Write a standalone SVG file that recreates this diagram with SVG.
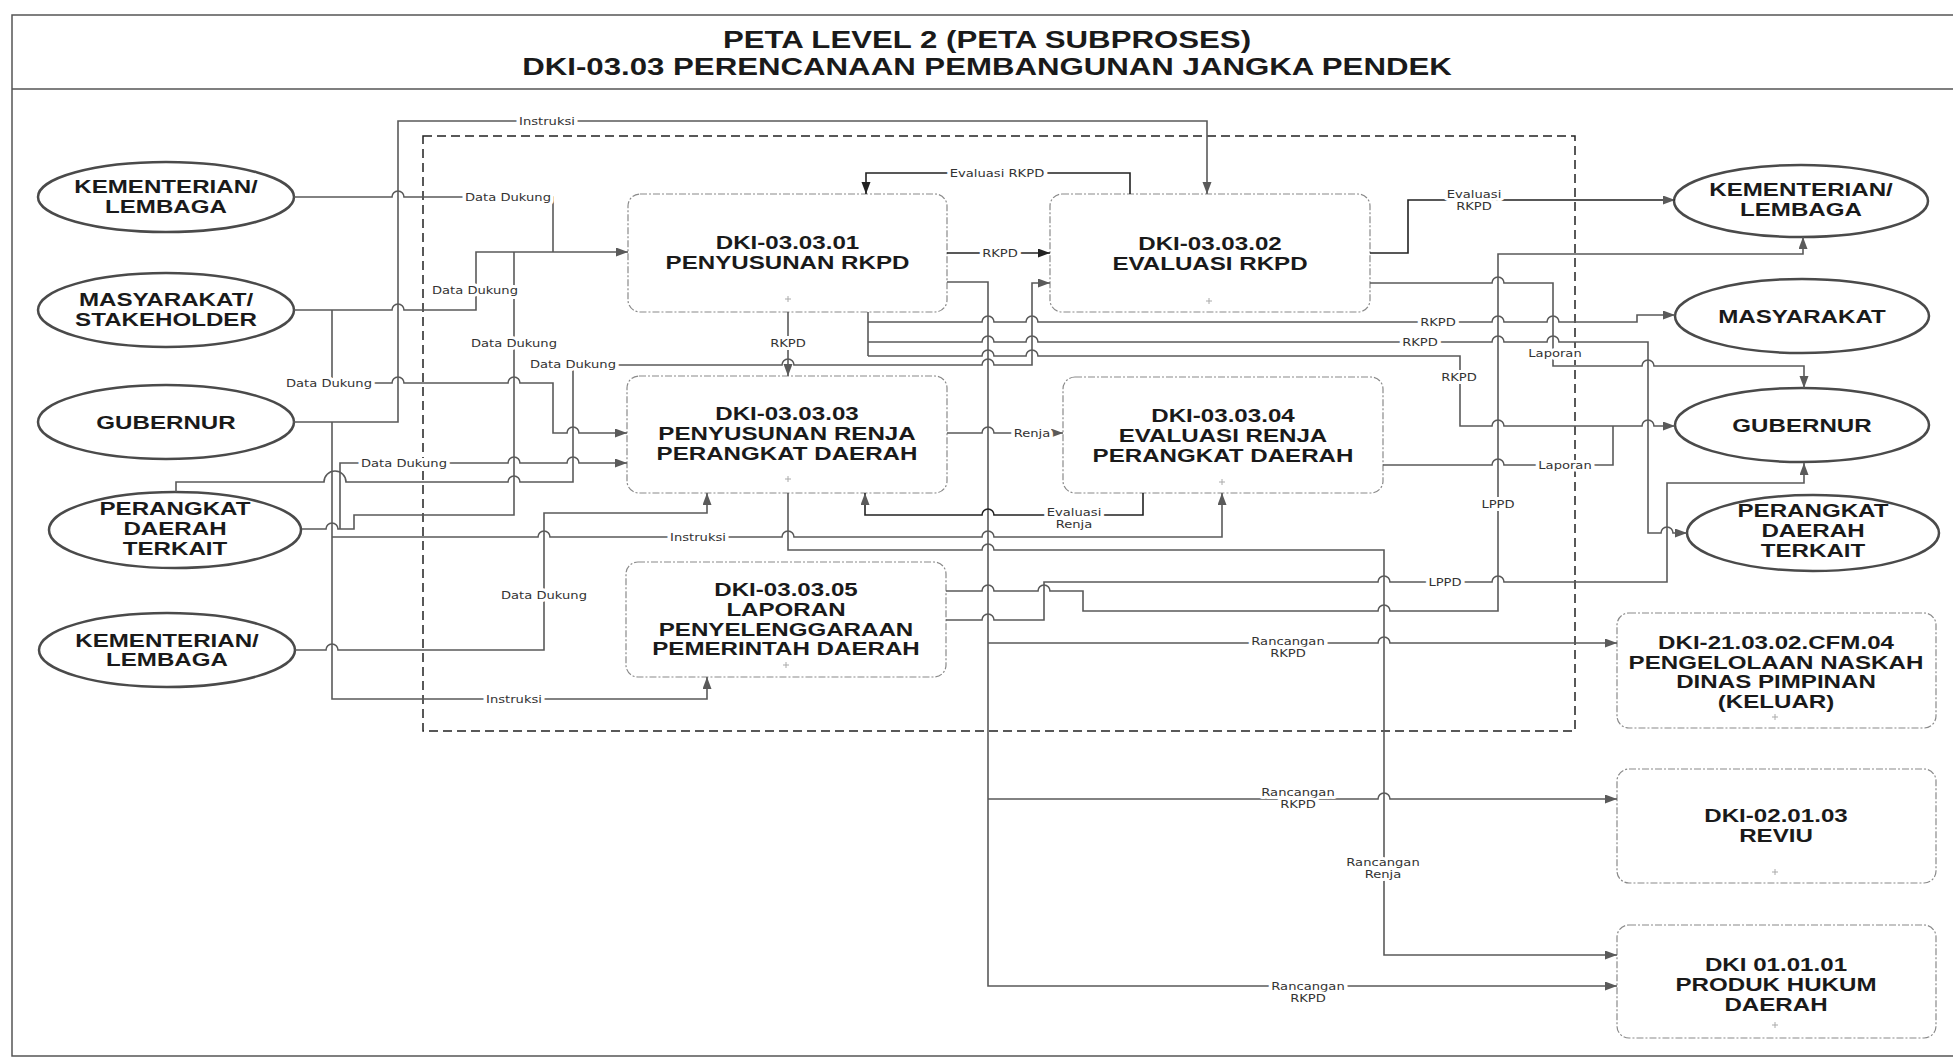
<svg xmlns="http://www.w3.org/2000/svg" width="1953" height="1061" viewBox="0 0 1953 1061">
<style>
.ln{fill:none;stroke:#5a5a5a;stroke-width:1.6}
.dk{stroke:#222}
.ell{fill:#fff;stroke:#4a4a4a;stroke-width:2.5}
.box{fill:#fff;stroke:#8a8a8a;stroke-width:1.2;stroke-dasharray:7 2 2 2}
.nt{font-family:"Liberation Sans",Arial,sans-serif;font-weight:bold;font-size:19px;fill:#1a1a1a;text-anchor:middle}
.tt{font-family:"Liberation Sans",Arial,sans-serif;font-weight:bold;font-size:24px;fill:#1a1a1a;text-anchor:middle}
.lb{font-family:"DejaVu Sans",sans-serif;font-size:10.5px;fill:#333;text-anchor:middle;stroke:#fff;stroke-width:6;paint-order:stroke;stroke-linejoin:round}
.pl{fill:none;stroke:#aaa;stroke-width:1}
.frame{fill:none;stroke:#555;stroke-width:1.5}
.cont{fill:none;stroke:#222;stroke-width:1.5;stroke-dasharray:9 5}
</style>
<defs>
<marker id="ar" markerUnits="userSpaceOnUse" markerWidth="13" markerHeight="10" refX="12" refY="4.5" orient="auto">
<path d="M0,0 L12,4.5 L0,9 z" fill="#5a5a5a"/>
</marker>
<marker id="ard" markerUnits="userSpaceOnUse" markerWidth="13" markerHeight="10" refX="12" refY="4.5" orient="auto">
<path d="M0,0 L12,4.5 L0,9 z" fill="#222"/>
</marker>
</defs>
<rect width="1953" height="1061" fill="#fff"/>
<g id="frame">
<rect class="frame" x="12" y="15" width="1960" height="1041"/>
<line class="frame" x1="12" y1="89" x2="1953" y2="89"/>
<text class="tt" transform="translate(987,48) scale(1.3,1)" x="0" y="0">PETA LEVEL 2 (PETA SUBPROSES)</text>
<text class="tt" transform="translate(987,75) scale(1.3,1)" x="0" y="0">DKI-03.03 PERENCANAAN PEMBANGUNAN JANGKA PENDEK</text>
</g>
<rect id="container" class="cont" x="423" y="136" width="1152" height="595"/>

<g id="n-kl1"><ellipse class="ell" cx="166" cy="197" rx="128" ry="35"/>
<text class="nt" transform="translate(166,0) scale(1.27,1)"><tspan x="0" y="193">KEMENTERIAN/</tspan><tspan x="0" y="213">LEMBAGA</tspan></text></g>
<g id="n-masy1"><ellipse class="ell" cx="166" cy="310" rx="128" ry="37"/>
<text class="nt" transform="translate(166,0) scale(1.27,1)"><tspan x="0" y="306">MASYARAKAT/</tspan><tspan x="0" y="326">STAKEHOLDER</tspan></text></g>
<g id="n-gub1"><ellipse class="ell" cx="166" cy="422" rx="128" ry="37"/>
<text class="nt" transform="translate(166,0) scale(1.27,1)"><tspan x="0" y="429">GUBERNUR</tspan></text></g>
<g id="n-pd1"><ellipse class="ell" cx="175" cy="530" rx="126" ry="38"/>
<text class="nt" transform="translate(175,0) scale(1.27,1)"><tspan x="0" y="515">PERANGKAT</tspan><tspan x="0" y="535">DAERAH</tspan><tspan x="0" y="555">TERKAIT</tspan></text></g>
<g id="n-kl2"><ellipse class="ell" cx="167" cy="650" rx="128" ry="37"/>
<text class="nt" transform="translate(167,0) scale(1.27,1)"><tspan x="0" y="647">KEMENTERIAN/</tspan><tspan x="0" y="666">LEMBAGA</tspan></text></g>

<g id="n-kl3"><ellipse class="ell" cx="1801" cy="201" rx="127" ry="36"/>
<text class="nt" transform="translate(1801,0) scale(1.27,1)"><tspan x="0" y="196">KEMENTERIAN/</tspan><tspan x="0" y="216">LEMBAGA</tspan></text></g>
<g id="n-masy2"><ellipse class="ell" cx="1802" cy="316" rx="127" ry="37"/>
<text class="nt" transform="translate(1802,0) scale(1.27,1)"><tspan x="0" y="323">MASYARAKAT</tspan></text></g>
<g id="n-gub2"><ellipse class="ell" cx="1802" cy="425" rx="127" ry="37"/>
<text class="nt" transform="translate(1802,0) scale(1.27,1)"><tspan x="0" y="432">GUBERNUR</tspan></text></g>
<g id="n-pd2"><ellipse class="ell" cx="1813" cy="533" rx="126" ry="38"/>
<text class="nt" transform="translate(1813,0) scale(1.27,1)"><tspan x="0" y="517">PERANGKAT</tspan><tspan x="0" y="537">DAERAH</tspan><tspan x="0" y="557">TERKAIT</tspan></text></g>

<g id="n-b1"><rect class="box" x="628" y="194" width="319" height="118" rx="12"/>
<text class="nt" transform="translate(787.5,0) scale(1.27,1)"><tspan x="0" y="249">DKI-03.03.01</tspan><tspan x="0" y="269">PENYUSUNAN RKPD</tspan></text>
<path class="pl" d="M785,299 h6 M788,296 v6"/></g>
<g id="n-b2"><rect class="box" x="1050" y="194" width="320" height="118" rx="12"/>
<text class="nt" transform="translate(1210,0) scale(1.27,1)"><tspan x="0" y="250">DKI-03.03.02</tspan><tspan x="0" y="270">EVALUASI RKPD</tspan></text>
<path class="pl" d="M1206,301 h6 M1209,298 v6"/></g>
<g id="n-b3"><rect class="box" x="627" y="376" width="320" height="117" rx="12"/>
<text class="nt" transform="translate(787,0) scale(1.27,1)"><tspan x="0" y="420">DKI-03.03.03</tspan><tspan x="0" y="440">PENYUSUNAN RENJA</tspan><tspan x="0" y="460">PERANGKAT DAERAH</tspan></text>
<path class="pl" d="M785,479 h6 M788,476 v6"/></g>
<g id="n-b4"><rect class="box" x="1063" y="377" width="320" height="116" rx="12"/>
<text class="nt" transform="translate(1223,0) scale(1.27,1)"><tspan x="0" y="422">DKI-03.03.04</tspan><tspan x="0" y="442">EVALUASI RENJA</tspan><tspan x="0" y="462">PERANGKAT DAERAH</tspan></text>
<path class="pl" d="M1219,482 h6 M1222,479 v6"/></g>
<g id="n-b5"><rect class="box" x="626" y="562" width="320" height="115" rx="12"/>
<text class="nt" transform="translate(786,0) scale(1.27,1)"><tspan x="0" y="596">DKI-03.03.05</tspan><tspan x="0" y="616">LAPORAN</tspan><tspan x="0" y="636">PENYELENGGARAAN</tspan><tspan x="0" y="655">PEMERINTAH DAERAH</tspan></text>
<path class="pl" d="M783,665 h6 M786,662 v6"/></g>

<g id="n-b6"><rect class="box" x="1617" y="613" width="319" height="115" rx="12"/>
<text class="nt" transform="translate(1776,0) scale(1.27,1)"><tspan x="0" y="649">DKI-21.03.02.CFM.04</tspan><tspan x="0" y="669">PENGELOLAAN NASKAH</tspan><tspan x="0" y="688">DINAS PIMPINAN</tspan><tspan x="0" y="708">(KELUAR)</tspan></text>
<path class="pl" d="M1772,717 h6 M1775,714 v6"/></g>
<g id="n-b7"><rect class="box" x="1617" y="769" width="319" height="114" rx="12"/>
<text class="nt" transform="translate(1776,0) scale(1.27,1)"><tspan x="0" y="822">DKI-02.01.03</tspan><tspan x="0" y="842">REVIU</tspan></text>
<path class="pl" d="M1772,872 h6 M1775,869 v6"/></g>
<g id="n-b8"><rect class="box" x="1617" y="925" width="319" height="113" rx="12"/>
<text class="nt" transform="translate(1776,0) scale(1.27,1)"><tspan x="0" y="971">DKI 01.01.01</tspan><tspan x="0" y="991">PRODUK HUKUM</tspan><tspan x="0" y="1011">DAERAH</tspan></text>
<path class="pl" d="M1772,1025 h6 M1775,1022 v6"/></g>

<g id="connectors">
<path class="ln" marker-end="url(#ar)" d="M293,422 H398 V121 H1207 V194"/>
<path class="ln" d="M294,197 H392 A6,6 0 0 1 404,197 H553 V252"/>
<path class="ln" marker-end="url(#ar)" d="M294,310 H392 A6,6 0 0 1 404,310 H476 V252 H628"/>
<path class="ln" marker-end="url(#ar)" d="M332,310 V383 H392 A6,6 0 0 1 404,383 H508 A6,6 0 0 1 520,383 H553 V433 H567 A6,6 0 0 1 579,433 H627"/>
<path class="ln" d="M302,529 H326 A6,6 0 0 1 338,529 H354 V515 H514 V252"/>
<path class="ln" marker-end="url(#ar)" d="M340,529 V463 H508 A6,6 0 0 1 520,463 H567 A6,6 0 0 1 579,463 H627"/>
<path class="ln" marker-end="url(#ar)" d="M176,492 V482 H324 A11,11 0 0 1 346,482 H508 A6,6 0 0 1 520,482 H573 V365 H782 A6,6 0 0 1 794,365 H982 A6,6 0 0 1 994,365 H1032 V283 H1050"/>
<path class="ln" marker-end="url(#ar)" d="M332,422 V699 H707 V677"/>
<path class="ln" marker-end="url(#ar)" d="M332,537 H538 A6,6 0 0 1 550,537 H782 A6,6 0 0 1 794,537 H982 A6,6 0 0 1 994,537 H1222 V493"/>
<path class="ln" marker-end="url(#ar)" d="M295,650 H326 A6,6 0 0 1 338,650 H544 V513 H707 V493"/>
<path class="ln" marker-end="url(#ar)" d="M788,312 V376"/>
<path class="ln dk" marker-end="url(#ard)" d="M947,253 H1050"/>
<path class="ln dk" marker-end="url(#ard)" d="M1130,194 V173 H866 V194"/>
<path class="ln" marker-end="url(#ar)" d="M947,282 H988 V986 H1617"/>
<path class="ln" marker-end="url(#ar)" d="M988,643 H1378 A6,6 0 0 1 1390,643 H1617"/>
<path class="ln" marker-end="url(#ar)" d="M988,799 H1378 A6,6 0 0 1 1390,799 H1617"/>
<path class="ln" d="M868,312 V356"/>
<path class="ln" marker-end="url(#ar)" d="M868,322 H982 A6,6 0 0 1 994,322 H1026 A6,6 0 0 1 1038,322 H1492 A6,6 0 0 1 1504,322 H1547 A6,6 0 0 1 1559,322 H1637 V315 H1675"/>
<path class="ln" marker-end="url(#ar)" d="M868,342 H982 A6,6 0 0 1 994,342 H1026 A6,6 0 0 1 1038,342 H1492 A6,6 0 0 1 1504,342 H1547 A6,6 0 0 1 1559,342 H1648 V533 H1661 A6,6 0 0 1 1673,533 H1687"/>
<path class="ln" marker-end="url(#ar)" d="M868,356 H982 A6,6 0 0 1 994,356 H1026 A6,6 0 0 1 1038,356 H1460 V426 H1492 A6,6 0 0 1 1504,426 H1642 A6,6 0 0 1 1654,426 H1675"/>
<path class="ln dk" marker-end="url(#ar)" d="M1370,253 H1408 V200 H1675"/>
<path class="ln" marker-end="url(#ar)" d="M1370,283 H1492 A6,6 0 0 1 1504,283 H1553 V366 H1642 A6,6 0 0 1 1654,366 H1804 V388"/>
<path class="ln" d="M1383,465 H1492 A6,6 0 0 1 1504,465 H1613 V426"/>
<path class="ln" marker-end="url(#ar)" d="M947,433 H982 A6,6 0 0 1 994,433 H1063"/>
<path class="ln dk" marker-end="url(#ar)" d="M1143,493 V515 H994 A6,6 0 0 0 982,515 H865 V493"/>
<path class="ln" marker-end="url(#ar)" d="M788,493 V550 H982 A6,6 0 0 1 994,550 H1384 V955 H1617"/>
<path class="ln" marker-end="url(#ar)" d="M946,591 H982 A6,6 0 0 1 994,591 H1038 A6,6 0 0 1 1050,591 H1083 V611 H1378 A6,6 0 0 1 1390,611 H1498 V254 H1803 V237"/>
<path class="ln" marker-end="url(#ar)" d="M946,620 H982 A6,6 0 0 1 994,620 H1044 V582 H1378 A6,6 0 0 1 1390,582 H1492 A6,6 0 0 1 1504,582 H1667 V483 H1804 V463"/>

<text class="lb" transform="translate(547,125) scale(1.25,1)">Instruksi</text>
<text class="lb" transform="translate(508,201) scale(1.25,1)">Data Dukung</text>
<text class="lb" transform="translate(475,294) scale(1.25,1)">Data Dukung</text>
<text class="lb" transform="translate(514,347) scale(1.25,1)">Data Dukung</text>
<text class="lb" transform="translate(329,387) scale(1.25,1)">Data Dukung</text>
<text class="lb" transform="translate(573,368) scale(1.25,1)">Data Dukung</text>
<text class="lb" transform="translate(404,467) scale(1.25,1)">Data Dukung</text>
<text class="lb" transform="translate(544,599) scale(1.25,1)">Data Dukung</text>
<text class="lb" transform="translate(698,541) scale(1.25,1)">Instruksi</text>
<text class="lb" transform="translate(514,703) scale(1.25,1)">Instruksi</text>
<text class="lb" transform="translate(788,347) scale(1.25,1)">RKPD</text>
<text class="lb" transform="translate(1000,257) scale(1.25,1)">RKPD</text>
<text class="lb" transform="translate(997,177) scale(1.25,1)">Evaluasi RKPD</text>
<text class="lb" transform="translate(1032,437) scale(1.25,1)">Renja</text>
<text class="lb" transform="translate(1074,0) scale(1.25,1)"><tspan x="0" y="516">Evaluasi</tspan><tspan x="0" y="528">Renja</tspan></text>
<text class="lb" transform="translate(1474,0) scale(1.25,1)"><tspan x="0" y="198">Evaluasi</tspan><tspan x="0" y="210">RKPD</tspan></text>
<text class="lb" transform="translate(1438,326) scale(1.25,1)">RKPD</text>
<text class="lb" transform="translate(1420,346) scale(1.25,1)">RKPD</text>
<text class="lb" transform="translate(1459,381) scale(1.25,1)">RKPD</text>
<text class="lb" transform="translate(1555,357) scale(1.25,1)">Laporan</text>
<text class="lb" transform="translate(1565,469) scale(1.25,1)">Laporan</text>
<text class="lb" transform="translate(1498,508) scale(1.25,1)">LPPD</text>
<text class="lb" transform="translate(1445,586) scale(1.25,1)">LPPD</text>
<text class="lb" transform="translate(1288,0) scale(1.25,1)"><tspan x="0" y="645">Rancangan</tspan><tspan x="0" y="657">RKPD</tspan></text>
<text class="lb" transform="translate(1298,0) scale(1.25,1)"><tspan x="0" y="796">Rancangan</tspan><tspan x="0" y="808">RKPD</tspan></text>
<text class="lb" transform="translate(1383,0) scale(1.25,1)"><tspan x="0" y="866">Rancangan</tspan><tspan x="0" y="878">Renja</tspan></text>
<text class="lb" transform="translate(1308,0) scale(1.25,1)"><tspan x="0" y="990">Rancangan</tspan><tspan x="0" y="1002">RKPD</tspan></text>
</g>
</svg>
